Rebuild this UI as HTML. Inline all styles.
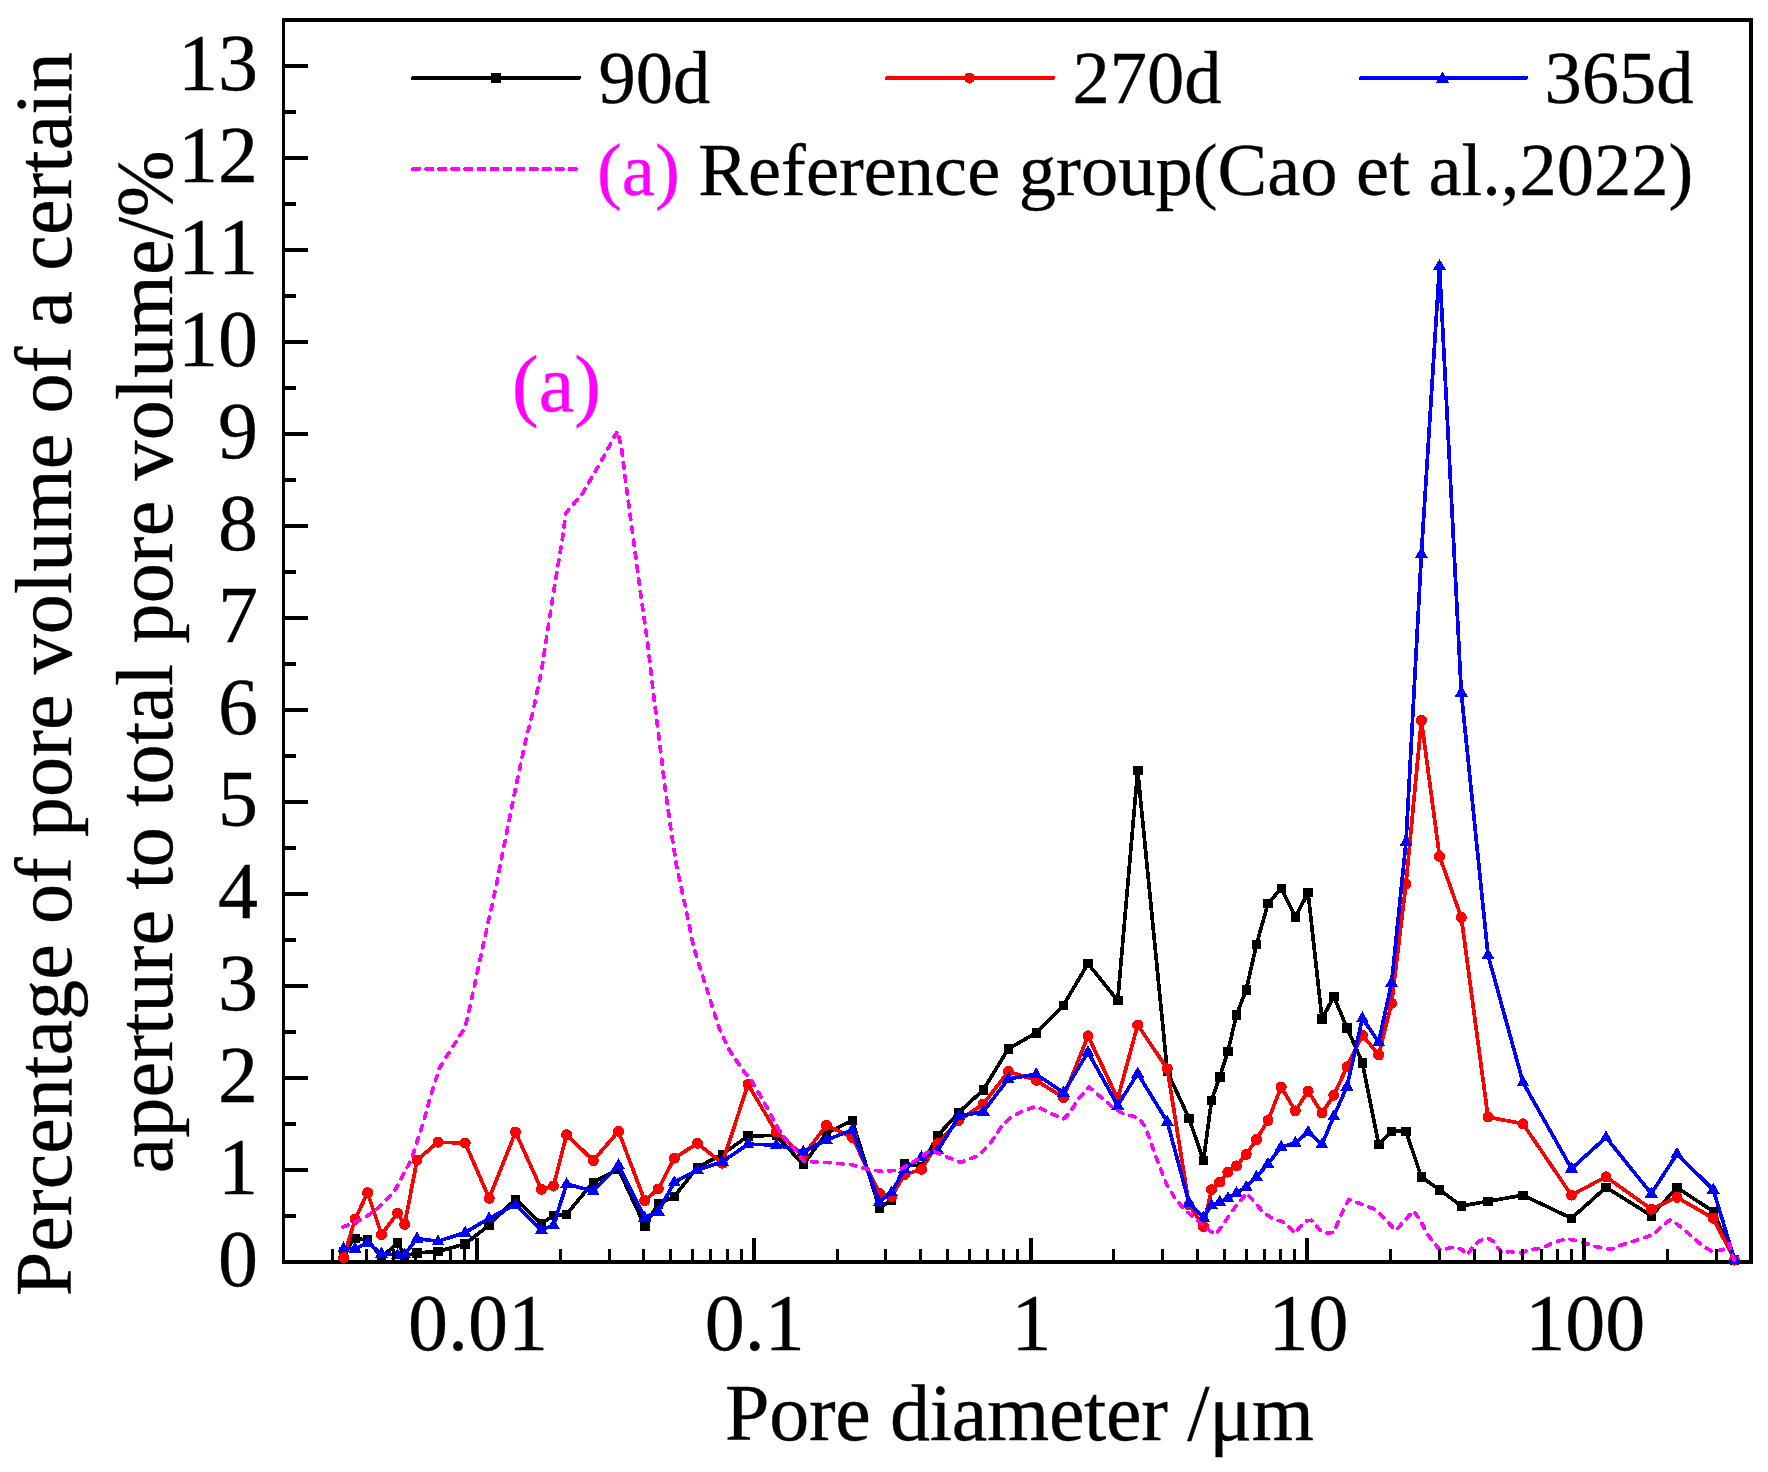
<!DOCTYPE html>
<html lang="en"><head><meta charset="utf-8"><title>Pore size distribution</title>
<style>html,body{margin:0;padding:0;background:#fff}body{width:1768px;height:1472px;overflow:hidden}svg{display:block}text{font-family:"Liberation Serif","Times New Roman",serif;fill:#000;stroke:#000;stroke-width:.35px;font-kerning:none}.t{font-size:80px}.l{font-size:74.5px}.m{fill:#f0f;stroke:#f0f}</style></head><body>
<svg width="1768" height="1472" viewBox="0 0 1768 1472">
<rect width="1768" height="1472" fill="#fff"/>
<g fill="#000" shape-rendering="crispEdges">
<rect x="282" y="18" width="3" height="1246"/>
<rect x="1749" y="18" width="4" height="1246"/>
<rect x="282" y="18" width="1471" height="4"/>
<rect x="282" y="1260" width="1471" height="4"/>
</g>
<g shape-rendering="crispEdges">
<polyline fill="none" stroke="#000" stroke-width="3.7" stroke-linejoin="round"  points="343.6,1252 355,1238.6 367.6,1240 381.5,1257.6 397.5,1242.7 404.7,1256 417,1252.9 438,1251.5 465.2,1244 489.2,1225 515.5,1199.2 541.3,1223.7 553.5,1215.5 566.6,1214.2 593.3,1182.2 618.5,1169.3 644.7,1225.7 658.3,1204 674.3,1196.5 697.4,1167.3 722.3,1154.4 748,1136 776.3,1135.4 803.3,1164.6 826.4,1133.3 852.2,1120.4 879.4,1208.1 891.6,1199.9 904.5,1163.2 921.5,1166.6 937.8,1135.4 958.9,1112.3 983.3,1089.9 1008.3,1048.8 1036.2,1032.9 1063.4,1005.3 1088,963.6 1117.7,1000.6 1137.7,770.4 1167.3,1071.5 1189,1118.4 1203.5,1160.5 1211.5,1100.3 1219.7,1077 1227.9,1051.5 1236.5,1014.9 1246.2,989.7 1256.5,944.5 1268,903.4 1281.2,888.5 1295.3,917 1308.1,892.6 1322,1018.9 1333.8,996.5 1347,1027.8 1362.4,1063 1378.7,1144.2 1391.6,1131.3 1406,1131.3 1421.4,1177 1439.5,1189.7 1461.3,1206 1488,1201.3 1523,1195.2 1571.5,1218.3 1606,1187.3 1651.3,1215.7 1677,1187.7 1713.3,1211.4 1734.5,1260"/>
<g fill="#000"><rect x="338.9" y="1247.2" width="9.5" height="9.5"/><rect x="350.2" y="1233.8" width="9.5" height="9.5"/><rect x="362.9" y="1235.2" width="9.5" height="9.5"/><rect x="376.8" y="1252.8" width="9.5" height="9.5"/><rect x="392.8" y="1238" width="9.5" height="9.5"/><rect x="399.9" y="1251.2" width="9.5" height="9.5"/><rect x="412.2" y="1248.2" width="9.5" height="9.5"/><rect x="433.2" y="1246.8" width="9.5" height="9.5"/><rect x="460.4" y="1239.2" width="9.5" height="9.5"/><rect x="484.4" y="1220.2" width="9.5" height="9.5"/><rect x="510.8" y="1194.5" width="9.5" height="9.5"/><rect x="536.5" y="1219" width="9.5" height="9.5"/><rect x="548.8" y="1210.8" width="9.5" height="9.5"/><rect x="561.9" y="1209.5" width="9.5" height="9.5"/><rect x="588.5" y="1177.5" width="9.5" height="9.5"/><rect x="613.8" y="1164.5" width="9.5" height="9.5"/><rect x="640" y="1221" width="9.5" height="9.5"/><rect x="653.5" y="1199.2" width="9.5" height="9.5"/><rect x="669.5" y="1191.8" width="9.5" height="9.5"/><rect x="692.6" y="1162.5" width="9.5" height="9.5"/><rect x="717.5" y="1149.7" width="9.5" height="9.5"/><rect x="743.2" y="1131.2" width="9.5" height="9.5"/><rect x="771.5" y="1130.7" width="9.5" height="9.5"/><rect x="798.5" y="1159.8" width="9.5" height="9.5"/><rect x="821.6" y="1128.5" width="9.5" height="9.5"/><rect x="847.5" y="1115.7" width="9.5" height="9.5"/><rect x="874.6" y="1203.3" width="9.5" height="9.5"/><rect x="886.9" y="1195.2" width="9.5" height="9.5"/><rect x="899.8" y="1158.5" width="9.5" height="9.5"/><rect x="916.8" y="1161.8" width="9.5" height="9.5"/><rect x="933" y="1130.7" width="9.5" height="9.5"/><rect x="954.1" y="1107.5" width="9.5" height="9.5"/><rect x="978.5" y="1085.2" width="9.5" height="9.5"/><rect x="1003.5" y="1044" width="9.5" height="9.5"/><rect x="1031.5" y="1028.2" width="9.5" height="9.5"/><rect x="1058.7" y="1000.5" width="9.5" height="9.5"/><rect x="1083.2" y="958.9" width="9.5" height="9.5"/><rect x="1113" y="995.9" width="9.5" height="9.5"/><rect x="1133" y="765.6" width="9.5" height="9.5"/><rect x="1162.5" y="1066.8" width="9.5" height="9.5"/><rect x="1184.2" y="1113.7" width="9.5" height="9.5"/><rect x="1198.8" y="1155.8" width="9.5" height="9.5"/><rect x="1206.8" y="1095.5" width="9.5" height="9.5"/><rect x="1215" y="1072.2" width="9.5" height="9.5"/><rect x="1223.2" y="1046.8" width="9.5" height="9.5"/><rect x="1231.8" y="1010.1" width="9.5" height="9.5"/><rect x="1241.5" y="985" width="9.5" height="9.5"/><rect x="1251.8" y="939.8" width="9.5" height="9.5"/><rect x="1263.2" y="898.6" width="9.5" height="9.5"/><rect x="1276.5" y="883.8" width="9.5" height="9.5"/><rect x="1290.5" y="912.2" width="9.5" height="9.5"/><rect x="1303.3" y="887.9" width="9.5" height="9.5"/><rect x="1317.2" y="1014.1" width="9.5" height="9.5"/><rect x="1329" y="991.8" width="9.5" height="9.5"/><rect x="1342.2" y="1023" width="9.5" height="9.5"/><rect x="1357.7" y="1058.2" width="9.5" height="9.5"/><rect x="1374" y="1139.5" width="9.5" height="9.5"/><rect x="1386.8" y="1126.5" width="9.5" height="9.5"/><rect x="1401.2" y="1126.5" width="9.5" height="9.5"/><rect x="1416.7" y="1172.2" width="9.5" height="9.5"/><rect x="1434.8" y="1185" width="9.5" height="9.5"/><rect x="1456.5" y="1201.2" width="9.5" height="9.5"/><rect x="1483.2" y="1196.5" width="9.5" height="9.5"/><rect x="1518.2" y="1190.5" width="9.5" height="9.5"/><rect x="1566.8" y="1213.5" width="9.5" height="9.5"/><rect x="1601.2" y="1182.5" width="9.5" height="9.5"/><rect x="1646.5" y="1211" width="9.5" height="9.5"/><rect x="1672.2" y="1183" width="9.5" height="9.5"/><rect x="1708.5" y="1206.7" width="9.5" height="9.5"/><rect x="1729.8" y="1255.2" width="9.5" height="9.5"/></g>
<polyline fill="none" stroke="#f00" stroke-width="3.7" stroke-linejoin="round"  points="343.6,1257.7 355,1219.3 367.6,1192.7 381.5,1234.6 397.5,1213.1 404.7,1224.4 417,1160.1 438,1142.2 465.2,1143.1 489.2,1198.3 515.5,1132 541.3,1189.3 553.5,1186 566.6,1134.8 593.3,1160.5 618.5,1131.3 644.7,1200.6 658.3,1189 674.3,1158.2 697.4,1143.3 722.3,1163.2 748,1084.4 776.3,1132 803.3,1155.8 826.4,1125.2 852.2,1137.4 879.4,1193.1 891.6,1196.5 904.5,1174.8 921.5,1169.3 937.8,1143.5 958.9,1120.4 983.3,1104.1 1008.3,1071.5 1036.2,1080.3 1063.4,1097.6 1088,1035.9 1117.7,1098.7 1137.7,1025 1167.3,1068.8 1189,1204.7 1203.5,1226.4 1211.5,1189.7 1219.7,1182 1227.9,1172.1 1236.5,1165.9 1246.2,1154.4 1256.5,1139.4 1268,1120.4 1281.2,1087.1 1295.3,1110.9 1308.1,1091.2 1322,1113 1333.8,1095.3 1347,1066.8 1362.4,1035.2 1378.7,1054.9 1391.6,1003.3 1406,883.7 1421.4,720.4 1439.5,856.3 1461.3,917.4 1488,1117 1523,1123.8 1571.5,1195.2 1606,1176.8 1651.3,1209.2 1677,1197.3 1713.3,1218.3 1734.5,1260"/>
<g fill="#f00"><circle cx="343.6" cy="1257.7" r="5.5"/><circle cx="355" cy="1219.3" r="5.5"/><circle cx="367.6" cy="1192.7" r="5.5"/><circle cx="381.5" cy="1234.6" r="5.5"/><circle cx="397.5" cy="1213.1" r="5.5"/><circle cx="404.7" cy="1224.4" r="5.5"/><circle cx="417" cy="1160.1" r="5.5"/><circle cx="438" cy="1142.2" r="5.5"/><circle cx="465.2" cy="1143.1" r="5.5"/><circle cx="489.2" cy="1198.3" r="5.5"/><circle cx="515.5" cy="1132" r="5.5"/><circle cx="541.3" cy="1189.3" r="5.5"/><circle cx="553.5" cy="1186" r="5.5"/><circle cx="566.6" cy="1134.8" r="5.5"/><circle cx="593.3" cy="1160.5" r="5.5"/><circle cx="618.5" cy="1131.3" r="5.5"/><circle cx="644.7" cy="1200.6" r="5.5"/><circle cx="658.3" cy="1189" r="5.5"/><circle cx="674.3" cy="1158.2" r="5.5"/><circle cx="697.4" cy="1143.3" r="5.5"/><circle cx="722.3" cy="1163.2" r="5.5"/><circle cx="748" cy="1084.4" r="5.5"/><circle cx="776.3" cy="1132" r="5.5"/><circle cx="803.3" cy="1155.8" r="5.5"/><circle cx="826.4" cy="1125.2" r="5.5"/><circle cx="852.2" cy="1137.4" r="5.5"/><circle cx="879.4" cy="1193.1" r="5.5"/><circle cx="891.6" cy="1196.5" r="5.5"/><circle cx="904.5" cy="1174.8" r="5.5"/><circle cx="921.5" cy="1169.3" r="5.5"/><circle cx="937.8" cy="1143.5" r="5.5"/><circle cx="958.9" cy="1120.4" r="5.5"/><circle cx="983.3" cy="1104.1" r="5.5"/><circle cx="1008.3" cy="1071.5" r="5.5"/><circle cx="1036.2" cy="1080.3" r="5.5"/><circle cx="1063.4" cy="1097.6" r="5.5"/><circle cx="1088" cy="1035.9" r="5.5"/><circle cx="1117.7" cy="1098.7" r="5.5"/><circle cx="1137.7" cy="1025" r="5.5"/><circle cx="1167.3" cy="1068.8" r="5.5"/><circle cx="1189" cy="1204.7" r="5.5"/><circle cx="1203.5" cy="1226.4" r="5.5"/><circle cx="1211.5" cy="1189.7" r="5.5"/><circle cx="1219.7" cy="1182" r="5.5"/><circle cx="1227.9" cy="1172.1" r="5.5"/><circle cx="1236.5" cy="1165.9" r="5.5"/><circle cx="1246.2" cy="1154.4" r="5.5"/><circle cx="1256.5" cy="1139.4" r="5.5"/><circle cx="1268" cy="1120.4" r="5.5"/><circle cx="1281.2" cy="1087.1" r="5.5"/><circle cx="1295.3" cy="1110.9" r="5.5"/><circle cx="1308.1" cy="1091.2" r="5.5"/><circle cx="1322" cy="1113" r="5.5"/><circle cx="1333.8" cy="1095.3" r="5.5"/><circle cx="1347" cy="1066.8" r="5.5"/><circle cx="1362.4" cy="1035.2" r="5.5"/><circle cx="1378.7" cy="1054.9" r="5.5"/><circle cx="1391.6" cy="1003.3" r="5.5"/><circle cx="1406" cy="883.7" r="5.5"/><circle cx="1421.4" cy="720.4" r="5.5"/><circle cx="1439.5" cy="856.3" r="5.5"/><circle cx="1461.3" cy="917.4" r="5.5"/><circle cx="1488" cy="1117" r="5.5"/><circle cx="1523" cy="1123.8" r="5.5"/><circle cx="1571.5" cy="1195.2" r="5.5"/><circle cx="1606" cy="1176.8" r="5.5"/><circle cx="1651.3" cy="1209.2" r="5.5"/><circle cx="1677" cy="1197.3" r="5.5"/><circle cx="1713.3" cy="1218.3" r="5.5"/><circle cx="1734.5" cy="1260" r="5.5"/></g>
<polyline fill="none" stroke="#00f" stroke-width="3.7" stroke-linejoin="round"  points="343.6,1248.3 355,1248.8 367.6,1242.7 381.5,1253.6 397.5,1254.9 404.7,1254.3 417,1238.6 438,1241.3 465.2,1232.5 489.2,1218.3 515.5,1204.7 541.3,1229.8 553.5,1225.3 566.6,1184 593.3,1191.1 618.5,1165.3 644.7,1217.6 658.3,1211.5 674.3,1182.2 697.4,1170 722.3,1161.9 748,1144.2 776.3,1145 803.3,1151.7 826.4,1140.1 852.2,1129.9 879.4,1201.9 891.6,1192.4 904.5,1169.3 921.5,1157.1 937.8,1150.3 958.9,1116.3 983.3,1111.6 1008.3,1079 1036.2,1074.2 1063.4,1092.6 1088,1052.2 1117.7,1105.5 1137.7,1073.5 1167.3,1121.8 1189,1202.6 1203.5,1217.6 1211.5,1205.3 1219.7,1202 1227.9,1198.2 1236.5,1193.1 1246.2,1187 1256.5,1176.8 1268,1163.9 1281.2,1146.9 1295.3,1143.1 1308.1,1132 1322,1144.2 1333.8,1116.3 1347,1086.5 1362.4,1018.3 1378.7,1042 1391.6,982.9 1406,842 1421.4,553.9 1439.5,266 1461.3,692.6 1488,955.1 1523,1082.4 1571.5,1168.7 1606,1137.4 1651.3,1193.6 1677,1153.9 1713.3,1189.7 1734.5,1260"/>
<g fill="#00f"><path d="M337.1,1252.3H350.1L343.6,1241.3Z"/><path d="M348.5,1252.8H361.5L355,1241.8Z"/><path d="M361.1,1246.7H374.1L367.6,1235.7Z"/><path d="M375,1257.6H388L381.5,1246.6Z"/><path d="M391,1258.9H404L397.5,1247.9Z"/><path d="M398.2,1258.3H411.2L404.7,1247.3Z"/><path d="M410.5,1242.6H423.5L417,1231.6Z"/><path d="M431.5,1245.3H444.5L438,1234.3Z"/><path d="M458.7,1236.5H471.7L465.2,1225.5Z"/><path d="M482.7,1222.3H495.7L489.2,1211.3Z"/><path d="M509,1208.7H522L515.5,1197.7Z"/><path d="M534.8,1233.8H547.8L541.3,1222.8Z"/><path d="M547,1229.3H560L553.5,1218.3Z"/><path d="M560.1,1188H573.1L566.6,1177Z"/><path d="M586.8,1195.1H599.8L593.3,1184.1Z"/><path d="M612,1169.3H625L618.5,1158.3Z"/><path d="M638.2,1221.6H651.2L644.7,1210.6Z"/><path d="M651.8,1215.5H664.8L658.3,1204.5Z"/><path d="M667.8,1186.2H680.8L674.3,1175.2Z"/><path d="M690.9,1174H703.9L697.4,1163Z"/><path d="M715.8,1165.9H728.8L722.3,1154.9Z"/><path d="M741.5,1148.2H754.5L748,1137.2Z"/><path d="M769.8,1149H782.8L776.3,1138Z"/><path d="M796.8,1155.7H809.8L803.3,1144.7Z"/><path d="M819.9,1144.1H832.9L826.4,1133.1Z"/><path d="M845.7,1133.9H858.7L852.2,1122.9Z"/><path d="M872.9,1205.9H885.9L879.4,1194.9Z"/><path d="M885.1,1196.4H898.1L891.6,1185.4Z"/><path d="M898,1173.3H911L904.5,1162.3Z"/><path d="M915,1161.1H928L921.5,1150.1Z"/><path d="M931.3,1154.3H944.3L937.8,1143.3Z"/><path d="M952.4,1120.3H965.4L958.9,1109.3Z"/><path d="M976.8,1115.6H989.8L983.3,1104.6Z"/><path d="M1001.8,1083H1014.8L1008.3,1072Z"/><path d="M1029.7,1078.2H1042.7L1036.2,1067.2Z"/><path d="M1056.9,1096.6H1069.9L1063.4,1085.6Z"/><path d="M1081.5,1056.2H1094.5L1088,1045.2Z"/><path d="M1111.2,1109.5H1124.2L1117.7,1098.5Z"/><path d="M1131.2,1077.5H1144.2L1137.7,1066.5Z"/><path d="M1160.8,1125.8H1173.8L1167.3,1114.8Z"/><path d="M1182.5,1206.6H1195.5L1189,1195.6Z"/><path d="M1197,1221.6H1210L1203.5,1210.6Z"/><path d="M1205,1209.3H1218L1211.5,1198.3Z"/><path d="M1213.2,1206H1226.2L1219.7,1195Z"/><path d="M1221.4,1202.2H1234.4L1227.9,1191.2Z"/><path d="M1230,1197.1H1243L1236.5,1186.1Z"/><path d="M1239.7,1191H1252.7L1246.2,1180Z"/><path d="M1250,1180.8H1263L1256.5,1169.8Z"/><path d="M1261.5,1167.9H1274.5L1268,1156.9Z"/><path d="M1274.7,1150.9H1287.7L1281.2,1139.9Z"/><path d="M1288.8,1147.1H1301.8L1295.3,1136.1Z"/><path d="M1301.6,1136H1314.6L1308.1,1125Z"/><path d="M1315.5,1148.2H1328.5L1322,1137.2Z"/><path d="M1327.3,1120.3H1340.3L1333.8,1109.3Z"/><path d="M1340.5,1090.5H1353.5L1347,1079.5Z"/><path d="M1355.9,1022.3H1368.9L1362.4,1011.3Z"/><path d="M1372.2,1046H1385.2L1378.7,1035Z"/><path d="M1385.1,986.9H1398.1L1391.6,975.9Z"/><path d="M1399.5,846H1412.5L1406,835Z"/><path d="M1414.9,557.9H1427.9L1421.4,546.9Z"/><path d="M1433,270H1446L1439.5,259Z"/><path d="M1454.8,696.6H1467.8L1461.3,685.6Z"/><path d="M1481.5,959.1H1494.5L1488,948.1Z"/><path d="M1516.5,1086.4H1529.5L1523,1075.4Z"/><path d="M1565,1172.7H1578L1571.5,1161.7Z"/><path d="M1599.5,1141.4H1612.5L1606,1130.4Z"/><path d="M1644.8,1197.6H1657.8L1651.3,1186.6Z"/><path d="M1670.5,1157.9H1683.5L1677,1146.9Z"/><path d="M1706.8,1193.7H1719.8L1713.3,1182.7Z"/><path d="M1728,1264H1741L1734.5,1253Z"/></g>
<polyline fill="none" stroke="#f0f" stroke-width="3.7" stroke-linejoin="round" stroke-dasharray="5.5 7.5" stroke-linecap="round" points="342.9,1227.1 364,1218.3 376.2,1209.4 393.9,1192.4 411.5,1159.1 425.1,1116.3 431,1094.6 439.6,1067.7 451.8,1048.1 465.2,1027.4 472.6,994.3 479.9,960.1 488.5,921 497,881.8 505.6,837.8 515.4,788.9 525.2,742.4 532.4,714.2 541.6,670.3 548.6,624.1 555.5,580.2 562.4,538.6 565.9,513.2 583.2,492.4 601.7,460.1 617.4,431.2 621.3,446.2 627.1,492.4 634,543.2 641,596.4 647.9,644.9 653.7,695.7 659.3,740 664.6,784 670.7,828 676.8,867.2 685.3,906.3 693.9,947.9 706.1,987 718.4,1026.1 728.1,1048.1 742.8,1070.2 751.1,1079.7 767.4,1108.2 781,1134 797.2,1151.7 804,1161.2 831.1,1162.8 851.5,1164.6 867.8,1169.3 882.8,1171.4 899.1,1170 912.7,1162.5 930.3,1150.3 941.2,1154.4 960.2,1162.5 977.9,1155.8 990.1,1143.5 1001,1127.2 1011.7,1116.3 1025.3,1110.2 1036.2,1106.2 1047.1,1111.6 1063.4,1119.1 1070.2,1112.3 1078.3,1098.7 1089.2,1087.1 1098.7,1095.3 1112.3,1106.8 1121.8,1113 1138.1,1117.7 1144.9,1125.9 1150.3,1140.8 1157.1,1159.8 1166.6,1184.3 1174.8,1197.9 1184.3,1209.4 1196.5,1219.6 1204.7,1227.1 1215.5,1234.6 1223.7,1223.7 1229.9,1214.2 1238,1203.3 1246.9,1193.1 1254.3,1201.9 1262.5,1211.5 1272,1218.3 1284.2,1222.3 1295.1,1233.2 1304.6,1221 1311.4,1220.3 1323,1233.2 1333.8,1232.5 1341.3,1214.2 1348.8,1199.5 1363,1204.7 1376.6,1210.1 1395.7,1230.5 1413.3,1210.8 1420.1,1219.6 1426.8,1233.2 1434.9,1244.1 1440.4,1250.2 1454,1246.8 1462.1,1249.5 1466.9,1254.9 1473,1246.8 1479.8,1240.7 1487.9,1238 1494,1242 1501.5,1252.9 1509.7,1251.5 1520.5,1252.9 1531.4,1249.5 1542.3,1248.1 1553.2,1242.7 1566.7,1238.6 1579,1241.3 1593.9,1246.1 1610.2,1249.5 1623.8,1244.1 1640.1,1239.3 1654.1,1234.1 1662.4,1225.9 1670.6,1219.4 1682.4,1228.2 1694.1,1238.8 1704.7,1247.1 1712.9,1251.8 1723.5,1249.4 1729.4,1243.5 1734.1,1260"/>
</g>
<g fill="#000" shape-rendering="crispEdges">
<rect x="285" y="1214" width="11" height="4"/>
<rect x="285" y="1168" width="23" height="4"/>
<rect x="285" y="1122" width="11" height="4"/>
<rect x="285" y="1076" width="23" height="4"/>
<rect x="285" y="1030" width="11" height="4"/>
<rect x="285" y="984" width="23" height="4"/>
<rect x="285" y="938" width="11" height="4"/>
<rect x="285" y="892" width="23" height="4"/>
<rect x="285" y="846" width="11" height="4"/>
<rect x="285" y="800" width="23" height="4"/>
<rect x="285" y="754" width="11" height="4"/>
<rect x="285" y="708" width="23" height="4"/>
<rect x="285" y="662" width="11" height="4"/>
<rect x="285" y="616" width="23" height="4"/>
<rect x="285" y="570" width="11" height="4"/>
<rect x="285" y="524" width="23" height="4"/>
<rect x="285" y="478" width="11" height="4"/>
<rect x="285" y="432" width="23" height="4"/>
<rect x="285" y="386" width="11" height="4"/>
<rect x="285" y="340" width="23" height="4"/>
<rect x="285" y="294" width="11" height="4"/>
<rect x="285" y="248" width="23" height="4"/>
<rect x="285" y="202" width="11" height="4"/>
<rect x="285" y="156" width="23" height="4"/>
<rect x="285" y="110" width="11" height="4"/>
<rect x="285" y="64" width="23" height="4"/>
<rect x="330.8" y="1249" width="3" height="11"/>
<rect x="365.4" y="1249" width="3" height="11"/>
<rect x="392.2" y="1249" width="3" height="11"/>
<rect x="414.1" y="1249" width="3" height="11"/>
<rect x="432.6" y="1249" width="3" height="11"/>
<rect x="448.7" y="1249" width="3" height="11"/>
<rect x="462.8" y="1249" width="3" height="11"/>
<rect x="475" y="1238" width="4" height="22"/>
<rect x="558.8" y="1249" width="3" height="11"/>
<rect x="607.6" y="1249" width="3" height="11"/>
<rect x="642.2" y="1249" width="3" height="11"/>
<rect x="669" y="1249" width="3" height="11"/>
<rect x="690.9" y="1249" width="3" height="11"/>
<rect x="709.4" y="1249" width="3" height="11"/>
<rect x="725.5" y="1249" width="3" height="11"/>
<rect x="739.6" y="1249" width="3" height="11"/>
<rect x="751.8" y="1238" width="4" height="22"/>
<rect x="835.6" y="1249" width="3" height="11"/>
<rect x="884.4" y="1249" width="3" height="11"/>
<rect x="919" y="1249" width="3" height="11"/>
<rect x="945.8" y="1249" width="3" height="11"/>
<rect x="967.7" y="1249" width="3" height="11"/>
<rect x="986.2" y="1249" width="3" height="11"/>
<rect x="1002.3" y="1249" width="3" height="11"/>
<rect x="1016.4" y="1249" width="3" height="11"/>
<rect x="1028.6" y="1238" width="4" height="22"/>
<rect x="1112.4" y="1249" width="3" height="11"/>
<rect x="1161.2" y="1249" width="3" height="11"/>
<rect x="1195.8" y="1249" width="3" height="11"/>
<rect x="1222.6" y="1249" width="3" height="11"/>
<rect x="1244.5" y="1249" width="3" height="11"/>
<rect x="1263" y="1249" width="3" height="11"/>
<rect x="1279.1" y="1249" width="3" height="11"/>
<rect x="1293.2" y="1249" width="3" height="11"/>
<rect x="1305.4" y="1238" width="4" height="22"/>
<rect x="1389.2" y="1249" width="3" height="11"/>
<rect x="1438" y="1249" width="3" height="11"/>
<rect x="1472.6" y="1249" width="3" height="11"/>
<rect x="1499.4" y="1249" width="3" height="11"/>
<rect x="1521.3" y="1249" width="3" height="11"/>
<rect x="1539.8" y="1249" width="3" height="11"/>
<rect x="1555.9" y="1249" width="3" height="11"/>
<rect x="1570" y="1249" width="3" height="11"/>
<rect x="1582.2" y="1238" width="4" height="22"/>
<rect x="1666" y="1249" width="3" height="11"/>
<rect x="1714.8" y="1249" width="3" height="11"/>
</g>
<g class="t" text-anchor="end">
<text x="258" y="1286">0</text>
<text x="258" y="1194">1</text>
<text x="258" y="1102">2</text>
<text x="258" y="1010">3</text>
<text x="258" y="918">4</text>
<text x="258" y="826">5</text>
<text x="258" y="734">6</text>
<text x="258" y="642">7</text>
<text x="258" y="550">8</text>
<text x="258" y="458">9</text>
<text x="258" y="366">10</text>
<text x="258" y="274">11</text>
<text x="258" y="182">12</text>
<text x="258" y="90">13</text>
</g>
<g class="t" text-anchor="middle">
<text x="478" y="1350">0.01</text>
<text x="754.8" y="1350">0.1</text>
<text x="1031.6" y="1350">1</text>
<text x="1308.4" y="1350">10</text>
<text x="1585.2" y="1350">100</text>
</g>
<text class="t" text-anchor="middle" x="1019.5" y="1439.5" textLength="589" lengthAdjust="spacing">Pore diameter /μm</text>
<text class="t" text-anchor="middle" transform="translate(70.5 674.3) rotate(-90)" textLength="1244" lengthAdjust="spacing">Percentage of pore volume of a certain</text>
<text class="t" text-anchor="middle" transform="translate(172 661.8) rotate(-90)" textLength="1023" lengthAdjust="spacing">aperture to total pore volume/%</text>
<text class="t m" x="512" y="411">(a)</text>
<g shape-rendering="crispEdges" stroke-width="4" stroke-linecap="round" fill="none">
<line x1="413" y1="78" x2="579" y2="78" stroke="#000"/><rect x="491" y="73" width="10" height="9.5" fill="#000"/>
<line x1="887" y1="78" x2="1053" y2="78" stroke="#f00"/><circle cx="969.5" cy="78" r="5.5" fill="#f00"/>
<line x1="1361" y1="78" x2="1526" y2="78" stroke="#00f"/><path d="M1436,82.500H1449L1442.500,71.500Z" fill="#00f"/>
<line x1="413" y1="169" x2="577" y2="169" stroke="#f0f" stroke-dasharray="6 7.080"/>
</g>
<g class="l">
<text x="598.5" y="103">90d</text>
<text x="1072.5" y="103">270d</text>
<text x="1544.5" y="103">365d</text>
<text x="597" y="195"><tspan class="m">(a)</tspan> Reference group(Cao et al.,2022)</text>
</g>
</svg></body></html>
